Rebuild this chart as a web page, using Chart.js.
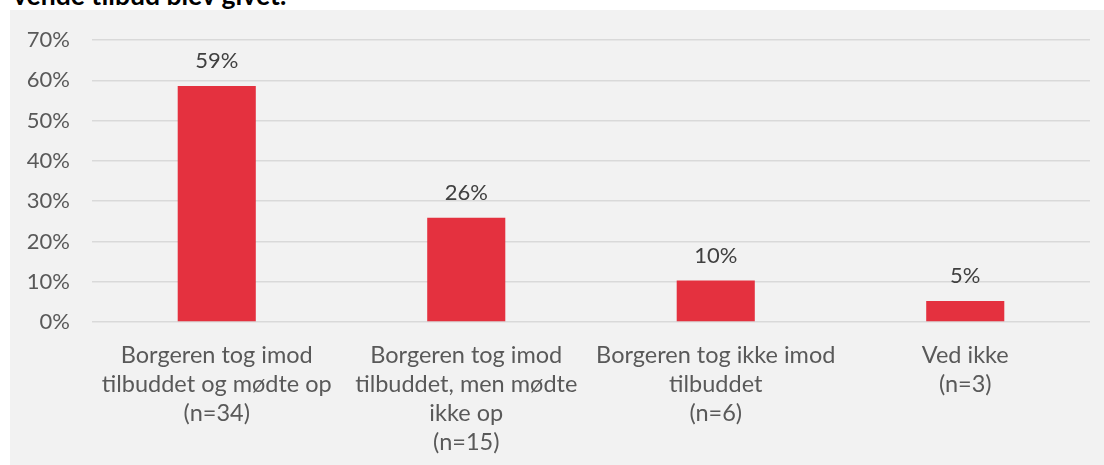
<!DOCTYPE html>
<html>
<head>
<meta charset="utf-8">
<script src="https://cdn.jsdelivr.net/npm/chart.js@4.4.0/dist/chart.umd.min.js"></script>
<style>
  html, body { margin: 0; padding: 0; background: #ffffff; overflow: hidden; }
  #wrap { position: relative; width: 1104px; height: 465px; }
  #panel { position: absolute; left: 10px; top: 10px; width: 1094px; height: 455px; background: #f2f2f2; }
  #title { position: absolute; left: 13px; top: -21px; font-family: Lato, sans-serif; font-weight: bold; font-size: 26.5px; color: #000; white-space: nowrap; }
  #c { position: absolute; left: 0; top: 0; }
</style>
</head>
<body>
<div id="wrap">
  <div id="panel"></div>
  <div id="title">vende tilbud blev givet:</div>
  <canvas id="c" width="1104" height="465"></canvas>
</div>
<script>
const categories = [
  ["Borgeren tog imod", "tilbuddet og mødte op", "(n=34)"],
  ["Borgeren tog imod", "tilbuddet, men mødte", "ikke op", "(n=15)"],
  ["Borgeren tog ikke imod", "tilbuddet", "(n=6)"],
  ["Ved ikke", "(n=3)"]
];
const shares = [0.586, 0.259, 0.103, 0.052];
const yTicks = [0, 0.1, 0.2, 0.3, 0.4, 0.5, 0.6, 0.7];

const FONT = "Lato, 'Open Sans', sans-serif";
const pct = v => Math.round(v * 100) + '%';

const valueLabels = {
  id: 'valueLabels',
  afterDatasetsDraw(chart) {
    const ctx = chart.ctx;
    const meta = chart.getDatasetMeta(0);
    ctx.save();
    ctx.font = "22px " + FONT;
    ctx.fillStyle = '#404040';
    ctx.textAlign = 'center';
    ctx.textBaseline = 'alphabetic';
    meta.data.forEach((bar, i) => {
      ctx.fillText(pct(shares[i]), bar.x, bar.y - 18);
    });
    ctx.restore();
  }
};

new Chart(document.getElementById('c'), {
  type: 'bar',
  data: {
    labels: categories,
    datasets: [{
      data: shares,
      backgroundColor: '#e4313f',
      borderWidth: 0,
      barPercentage: 0.313,
      categoryPercentage: 1.0
    }]
  },
  options: {
    responsive: false,
    animation: false,
    devicePixelRatio: 1,
    layout: { padding: { left: 0, right: 14, top: 40, bottom: 0 } },
    plugins: { legend: { display: false }, tooltip: { enabled: false }, title: { display: false } },
    scales: {
      x: {
        grid: { display: false, drawTicks: false },
        border: { display: false },
        ticks: {
          color: '#595959',
          font: { family: FONT, size: 23.5, lineHeight: 1.235 },
          padding: 19,
          maxRotation: 0,
          minRotation: 0,
          autoSkip: false
        },
        afterFit(scale) { scale.height = 143; }
      },
      y: {
        min: 0,
        max: 0.7,
        afterBuildTicks(scale) { scale.ticks = yTicks.map(v => ({ value: v })); },
        grid: { color: '#d9d9d9', lineWidth: 1.5, drawTicks: false },
        border: { display: false },
        ticks: {
          color: '#595959',
          font: { family: FONT, size: 22 },
          padding: 22,
          callback: v => pct(v)
        },
        afterFit(scale) { scale.width = 92; }
      }
    }
  },
  plugins: [valueLabels]
});
</script>
</body>
</html>
